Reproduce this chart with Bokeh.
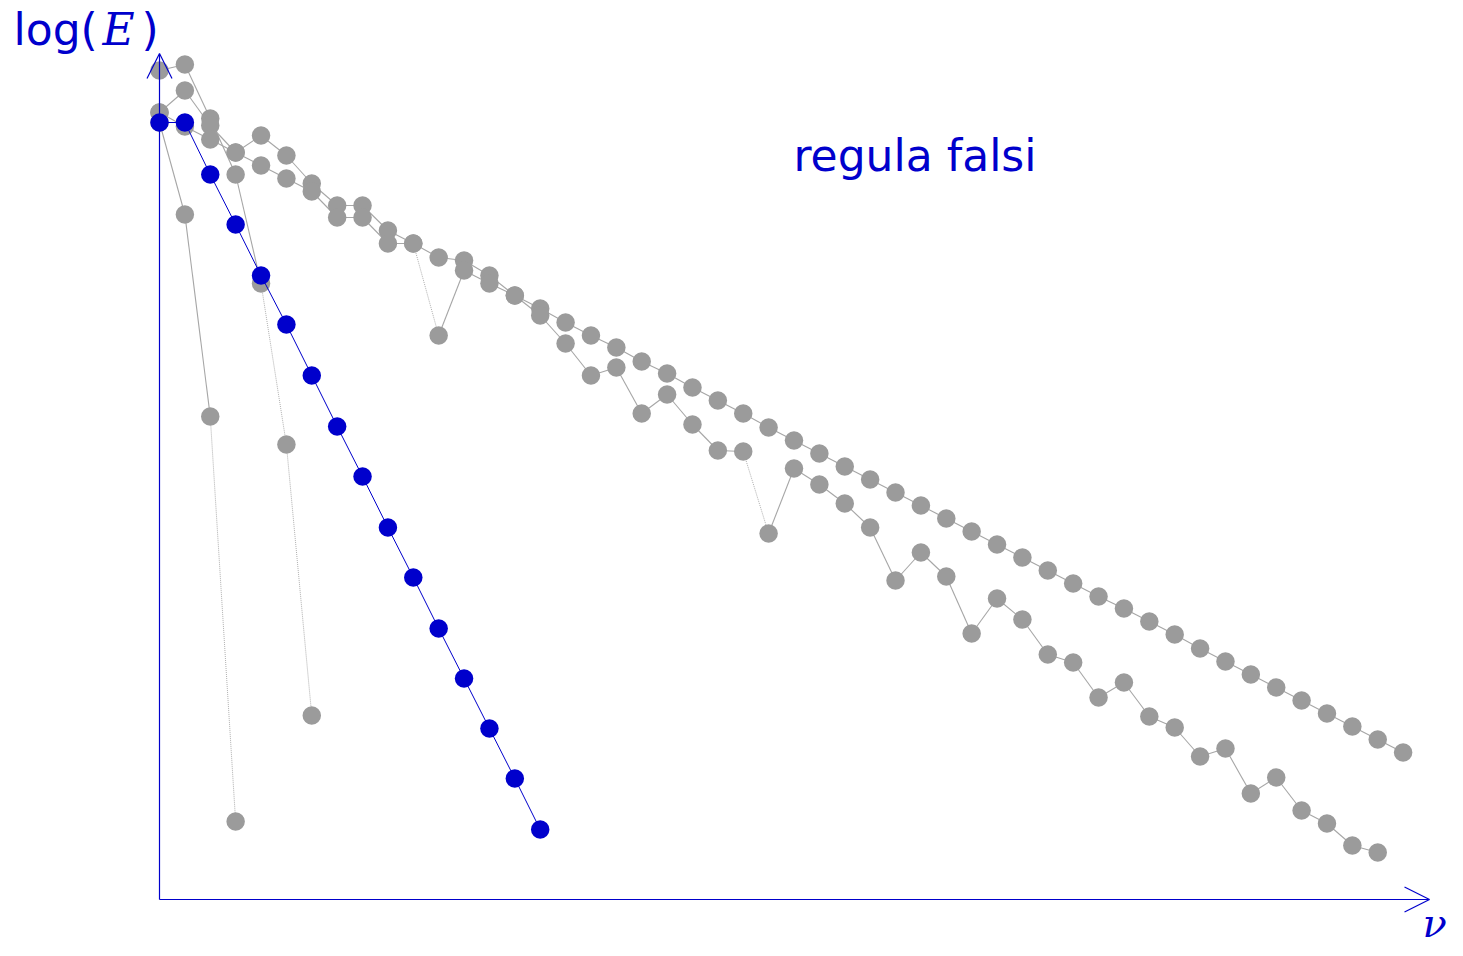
from bokeh.plotting import figure
from bokeh.models import Label, Arrow, OpenHead, Range1d
from bokeh.embed import file_html
from bokeh.resources import INLINE

# ---------------- data (log of error vs. iteration nu) ----------------
blue_label = "regula falsi"
blue_vals = [15.54, 15.54, 14.50, 13.50, 12.48, 11.50, 10.48, 9.46, 8.46, 7.44,
             6.44, 5.42, 4.42, 3.42, 2.42, 1.40]

gray_a = [15.54, 13.70, 9.66, 1.56]
gray_b = [16.58, 16.70, 15.62, 14.50, 12.32, 9.10, 3.68]
gray_c = [15.74, 16.18, 15.48, 14.94, 15.28, 14.88, 14.32, 13.88, 13.88, 13.38,
          13.12, 12.84, 12.78, 12.48, 12.08, 11.82, 11.54, 11.28, 11.04, 10.76,
          10.52, 10.24, 9.98, 9.72, 9.44, 9.18, 8.92, 8.66, 8.40, 8.14,
          7.88, 7.62, 7.36, 7.10, 6.84, 6.58, 6.32, 6.06, 5.82, 5.56,
          5.30, 5.02, 4.76, 4.50, 4.24, 3.98, 3.72, 3.46, 3.20, 2.94]
gray_d = [15.74, 15.46, 15.20, 14.94, 14.68, 14.42, 14.16, 13.64, 13.64, 13.12,
          13.12, 11.28, 12.58, 12.32, 12.08, 11.68, 11.12, 10.48, 10.64, 9.72,
          10.10, 9.50, 8.98, 8.96, 7.32, 8.62, 8.30, 7.92, 7.44, 6.38,
          6.94, 6.46, 5.32, 6.02, 5.60, 4.90, 4.74, 4.04, 4.34, 3.66,
          3.44, 2.86, 3.02, 2.12, 2.44, 1.78, 1.52, 1.08, 0.94]

gray_series = [gray_a, gray_b, gray_c, gray_d]
# segments (k -> k+1) drawn dotted, per gray series
dotted_segments = [[2], [4, 5], [], [10, 23]]

# ---------------- style ----------------
BLUE = "#0000CC"
GRAY_M = "#9b9b9b"
GRAY_L = "#a6a6a6"
W, H = 1455, 948
PX_X = 25.38   # pixels per iteration
PX_Y = 50.0    # pixels per unit of log(E)
X0_PX, Y0_PX = 159, 899  # screen position of origin (from top-left)
TXT_SHIFT = 15           # baseline correction for labels

p = figure(width=W, height=H, output_backend="svg", toolbar_location=None,
           min_border=0, background_fill_color="white", border_fill_color="white")
p.x_range = Range1d(-X0_PX / PX_X, (W - X0_PX) / PX_X)
p.y_range = Range1d(-(H - Y0_PX) / PX_Y, Y0_PX / PX_Y)
p.axis.visible = False
p.grid.visible = False
p.outline_line_color = None

# gray series
for vals, dots in zip(gray_series, dotted_segments):
    xs = list(range(len(vals)))
    sx0, sy0, sx1, sy1 = [], [], [], []
    dx0, dy0, dx1, dy1 = [], [], [], []
    for k in range(len(vals) - 1):
        if k in dots:
            dx0.append(xs[k]); dy0.append(vals[k]); dx1.append(xs[k + 1]); dy1.append(vals[k + 1])
        else:
            sx0.append(xs[k]); sy0.append(vals[k]); sx1.append(xs[k + 1]); sy1.append(vals[k + 1])
    p.segment(sx0, sy0, sx1, sy1, line_color=GRAY_L, line_width=1.1)
    if dx0:
        p.segment(dx0, dy0, dx1, dy1, line_color=GRAY_L, line_width=0.9, line_dash="1 1")

for vals in gray_series:
    p.scatter(list(range(len(vals))), vals, size=18.5, fill_color=GRAY_M, line_color=None)

# blue series
bx = list(range(len(blue_vals)))
p.line(bx, blue_vals, line_color=BLUE, line_width=1)
p.scatter(bx, blue_vals, size=18.5, fill_color=BLUE, line_color=None)

# axes with arrow heads
x_end = 50.04
y_end = 16.92
p.add_layout(Arrow(x_start=0, y_start=0, x_end=x_end, y_end=0, line_color=BLUE, line_width=1.2,
                   end=OpenHead(size=25, line_color=BLUE, line_width=1.2)))
p.add_layout(Arrow(x_start=0, y_start=0, x_end=0, y_end=y_end, line_color=BLUE, line_width=1.2,
                   end=OpenHead(size=25, line_color=BLUE, line_width=1.2)))

# texts
FS = "44px"
BASE_LOG = H - 44 + TXT_SHIFT
p.add_layout(Label(x=13, y=BASE_LOG, x_units="screen", y_units="screen", text="log(",
                   text_font="DejaVu Sans", text_font_size=FS, text_color=BLUE,
                   text_baseline="alphabetic"))
p.add_layout(Label(x=102, y=BASE_LOG, x_units="screen", y_units="screen", text="E",
                   text_font="DejaVu Serif", text_font_style="italic", text_font_size=FS,
                   text_color=BLUE, text_baseline="alphabetic"))
p.add_layout(Label(x=141, y=BASE_LOG, x_units="screen", y_units="screen", text=")",
                   text_font="DejaVu Sans", text_font_size=FS, text_color=BLUE,
                   text_baseline="alphabetic"))
p.add_layout(Label(x=793, y=H - 170 + TXT_SHIFT, x_units="screen", y_units="screen",
                   text=blue_label, text_font="DejaVu Sans", text_font_size=FS,
                   text_color=BLUE, text_baseline="alphabetic"))
p.add_layout(Label(x=1422, y=H - 937 + TXT_SHIFT, x_units="screen", y_units="screen",
                   text="\u03bd", text_font="DejaVu Serif", text_font_style="italic",
                   text_font_size="40px", text_color=BLUE, text_baseline="alphabetic"))

open("out.html", "w").write(file_html(p, INLINE))
